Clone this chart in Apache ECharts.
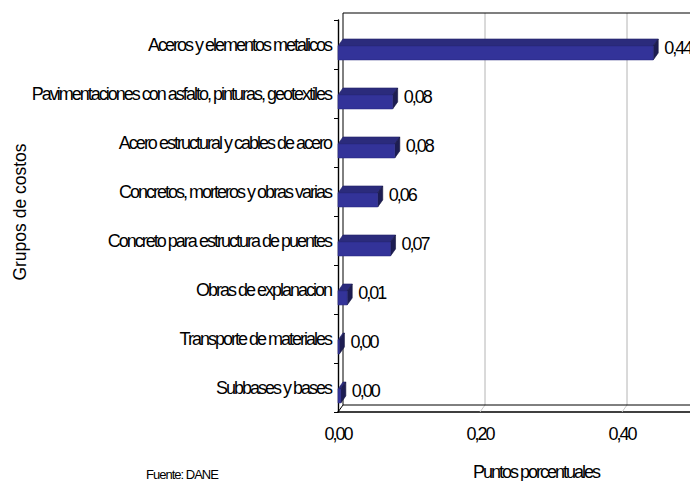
<!DOCTYPE html>
<html>
<head>
<meta charset="utf-8">
<script src="https://cdn.jsdelivr.net/npm/echarts@6/dist/echarts.min.js"></script>
<style>
html,body{margin:0;padding:0;background:#ffffff;}
#chart{width:690px;height:481px;}
#chart text{letter-spacing:-2px;}
#chart text[style*="NormalSp"]{letter-spacing:0px;}
#chart text[style*="TightSp"]{letter-spacing:-1px;}
</style>
</head>
<body>
<div id="chart"></div>
<script>
// ---- data ----
const categories = [
  'Aceros y elementos metalicos',
  'Pavimentaciones con asfalto, pinturas, geotextiles',
  'Acero estructural y cables de acero',
  'Concretos, morteros y obras varias',
  'Concreto para estructura de puentes',
  'Obras de explanacion',
  'Transporte de materiales',
  'Subbases y bases'
];
const values = [0.444, 0.077, 0.080, 0.056, 0.074, 0.013, 0.002, 0.004];
const xTickValues = [0, 0.2, 0.4];
const xMin = 0;
const xMax = 0.5;
const xInterval = 0.2;
const yAxisTitle = 'Grupos de costos';
const xAxisTitle = 'Puntos porcentuales';
const sourceNote = 'Fuente: DANE';

// ---- helpers ----
const fmt = v => v.toFixed(2).replace('.', ',');
const FONT = 'Liberation Sans';
const DX = 5, DY = 7;

function renderWall(params, api) {
  const cs = params.coordSys;
  const x0 = api.coord([xMin, 0])[0];
  const yTop = cs.y, yBot = cs.y + cs.height;
  const xR = cs.x + cs.width + 10;
  const children = [];
  xTickValues.filter(t => t > xMin).forEach(t => {
    const x = api.coord([t, 0])[0];
    children.push({type: 'line', shape: {x1: x + DX, y1: yTop - DY, x2: x + DX, y2: yBot - DY}, style: {stroke: '#b4b4b4', lineWidth: 1}});
    children.push({type: 'line', shape: {x1: x, y1: yBot, x2: x + DX, y2: yBot - DY}, style: {stroke: '#c8c8c8', lineWidth: 1}});
  });
  children.push({type: 'line', shape: {x1: x0 + DX, y1: yTop - DY, x2: xR, y2: yTop - DY}, style: {stroke: '#000', lineWidth: 1.2}});
  children.push({type: 'line', shape: {x1: x0 + DX, y1: yTop - DY, x2: x0 + DX, y2: yBot - DY}, style: {stroke: '#000', lineWidth: 1}});
  children.push({type: 'line', shape: {x1: x0 + DX, y1: yBot - DY, x2: xR, y2: yBot - DY}, style: {stroke: '#000', lineWidth: 1}});
  children.push({type: 'line', shape: {x1: x0, y1: yBot, x2: x0 + DX, y2: yBot - DY}, style: {stroke: '#000', lineWidth: 1}});
  return {type: 'group', children: children};
}

function renderBar(params, api) {
  const v = api.value(0);
  const ci = api.value(1);
  const p0 = api.coord([xMin, ci]);
  const p1 = api.coord([v, ci]);
  const band = api.size([0, 1])[1];
  const fTop = p0[1] + band * 0.03;
  const fH = band * 0.285;
  const xL = p0[0], xR = p1[0];
  return {
    type: 'group',
    children: [
      {type: 'polygon', shape: {points: [[xL, fTop], [xL + DX, fTop - DY], [xR + DX, fTop - DY], [xR, fTop]]},
        style: {fill: '#2b2b7c', stroke: '#24246a', lineWidth: 0.6}},
      {type: 'polygon', shape: {points: [[xR, fTop], [xR + DX, fTop - DY], [xR + DX, fTop + fH - DY], [xR, fTop + fH]]},
        style: {fill: '#1d1d52', stroke: '#16163f', lineWidth: 0.6}},
      {type: 'rect', shape: {x: xL, y: fTop, width: Math.max(xR - xL, 0.5), height: fH},
        style: {fill: '#333399', stroke: '#2a2a82', lineWidth: 0.6}},
      {type: 'text', x: xR + DX + 6, y: p0[1] + 3,
        style: {text: fmt(v), fill: '#000', fontSize: 18, fontFamily: FONT, textAlign: 'left', textVerticalAlign: 'middle'}}
    ]
  };
}

const chart = echarts.init(document.getElementById('chart'), null, {renderer: 'svg'});
chart.setOption({
  animation: false,
  backgroundColor: '#ffffff',
  grid: {left: 338, top: 20, width: 355, height: 392, containLabel: false, outerBoundsMode: 'none'},
  xAxis: {
    type: 'value', min: xMin, max: xMax, interval: xInterval,
    axisLine: {show: true, lineStyle: {color: '#000', width: 1.6}},
    axisTick: {show: false},
    splitLine: {show: false},
    axisLabel: {formatter: v => fmt(v), showMaxLabel: false, margin: 13, fontSize: 18, fontFamily: FONT, color: '#000'}
  },
  yAxis: {
    type: 'category', data: categories, inverse: true,
    axisLine: {show: true, lineStyle: {color: '#000', width: 1.4}},
    axisTick: {show: true, length: 4, lineStyle: {color: '#000'}},
    splitLine: {show: false},
    axisLabel: {interval: 0, margin: 7, fontSize: 18, fontFamily: FONT, color: '#000', padding: [3, 0, 0, 0]}
  },
  graphic: [
    {type: 'text', x: 20, y: 212, rotation: Math.PI / 2,
      style: {text: yAxisTitle, fontSize: 17.5, fontFamily: 'NormalSp, ' + FONT, fill: '#000', textAlign: 'center', textVerticalAlign: 'middle'}},
    {type: 'text', x: 536, y: 472,
      style: {text: xAxisTitle, fontSize: 18, fontFamily: FONT, fill: '#000', textAlign: 'center', textVerticalAlign: 'middle'}},
    {type: 'text', x: 182, y: 474,
      style: {text: sourceNote, fontSize: 13, fontFamily: 'TightSp, ' + FONT, fill: '#000', textAlign: 'center', textVerticalAlign: 'middle'}}
  ],
  series: [
    {type: 'custom', name: 'wall', silent: true, z: 1, renderItem: renderWall, data: [[0, 0]], encode: {x: 0, y: 1}},
    {type: 'custom', name: 'Puntos porcentuales', z: 2, renderItem: renderBar,
      data: values.map((v, i) => [v, i]), encode: {x: 0, y: 1}}
  ]
});
</script>
</body>
</html>
